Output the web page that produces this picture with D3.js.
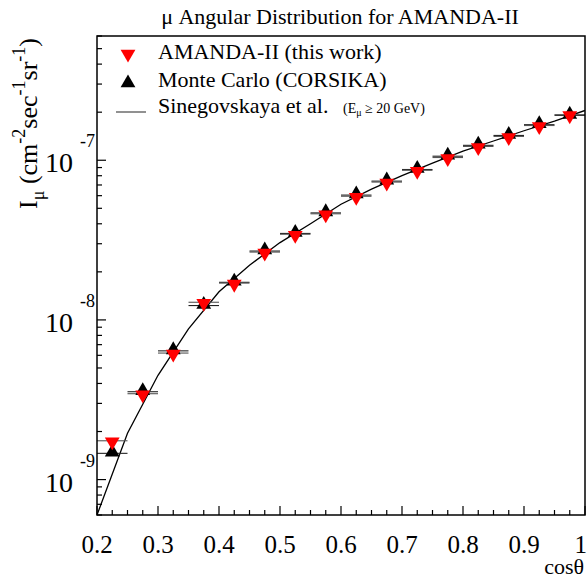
<!DOCTYPE html>
<html>
<head>
<meta charset="utf-8">
<script src="https://cdn.jsdelivr.net/npm/d3@7"></script>
<style>
  html, body { margin: 0; padding: 0; background: #fff; }
  svg { display: block; }
  svg text { font-family: "Liberation Serif", "Times New Roman", Times, "DejaVu Serif", serif; fill: #000; }
</style>
</head>
<body>
<div id="chart"></div>
<script>
// ---- data ----
const cosTheta = [0.225, 0.275, 0.325, 0.375, 0.425, 0.475, 0.525, 0.575, 0.625, 0.675, 0.725, 0.775, 0.825, 0.875, 0.925, 0.975];
const amandaData = [1.75e-9, 3.45e-9, 6.2e-9, 1.29e-8, 1.70e-8, 2.66e-8, 3.44e-8, 4.62e-8, 5.95e-8, 7.3e-8, 8.65e-8, 1.04e-7, 1.22e-7, 1.41e-7, 1.65e-7, 1.93e-7];
const monteCarlo = [1.46e-9, 3.55e-9, 6.4e-9, 1.23e-8, 1.72e-8, 2.70e-8, 3.48e-8, 4.68e-8, 6.05e-8, 7.4e-8, 8.75e-8, 1.06e-7, 1.24e-7, 1.43e-7, 1.67e-7, 1.91e-7];
const binHalfWidth = 0.025;
const curveCos = [0.2, 0.25, 0.3, 0.35, 0.4, 0.45, 0.5, 0.55, 0.6, 0.65, 0.7, 0.75, 0.8, 0.85, 0.9, 0.95, 1.0];
const curveVal = [6.0e-10, 1.95e-9, 4.5e-9, 8.8e-9, 1.5e-8, 2.2e-8, 3.05e-8, 4.0e-8, 5.3e-8, 6.6e-8, 8.0e-8, 9.6e-8, 1.14e-7, 1.32e-7, 1.53e-7, 1.76e-7, 2.05e-7];
const xTicks = [0.2, 0.3, 0.4, 0.5, 0.6, 0.7, 0.8, 0.9, 1];
const xTickLabels = ["0.2", "0.3", "0.4", "0.5", "0.6", "0.7", "0.8", "0.9", "1"];
const yDecades = [1e-9, 1e-8, 1e-7];
const yDecadeExp = ["-9", "-8", "-7"];
const legendLabels = ["AMANDA-II (this work)", "Monte Carlo (CORSIKA)", "Sinegovskaya et al."];

// ---- layout ----
const W = 587, H = 580;
const L = 97, R = 585, T = 36, B = 515;
const FONT = "'Liberation Serif', 'Times New Roman', Times, 'DejaVu Serif', serif";

const svg = d3.select("#chart").append("svg").attr("width", W).attr("height", H)
  .attr("font-family", FONT);

const x = d3.scaleLinear().domain([0.2, 1.0]).range([L, R]);
const y = d3.scaleLog().domain([6e-10, 6e-7]).range([B, T]);

svg.append("clipPath").attr("id", "clip").append("rect")
  .attr("x", L).attr("y", T).attr("width", R - L).attr("height", B - T);

// curve
const line = d3.line().x(d => x(d[0])).y(d => y(d[1]));
svg.append("path")
  .attr("clip-path", "url(#clip)")
  .attr("d", line(curveCos.map((c, i) => [c, curveVal[i]])))
  .attr("fill", "none").attr("stroke", "#000").attr("stroke-width", 1.3);

const gPts = svg.append("g").attr("clip-path", "url(#clip)");

function errBars(vals, color) {
  gPts.selectAll(null).data(cosTheta).enter().append("line")
    .attr("x1", d => x(d - binHalfWidth)).attr("x2", d => x(d + binHalfWidth))
    .attr("y1", (d, i) => y(vals[i])).attr("y2", (d, i) => y(vals[i]))
    .attr("stroke", color).attr("stroke-width", 1.1);
}
errBars(monteCarlo, "#222");
errBars(amandaData, "#555");

const triUp = d3.symbol().type(d3.symbolTriangle).size(95);
gPts.selectAll(null).data(cosTheta).enter().append("path")
  .attr("d", triUp)
  .attr("transform", (d, i) => `translate(${x(d)},${y(monteCarlo[i]) - 1})`)
  .attr("fill", "#000");
gPts.selectAll(null).data(cosTheta).enter().append("path")
  .attr("d", triUp)
  .attr("transform", (d, i) => `translate(${x(d)},${y(amandaData[i]) + 1}) rotate(180)`)
  .attr("fill", "#ff0000");

// frame
svg.append("rect").attr("x", L).attr("y", T).attr("width", R - L).attr("height", B - T)
  .attr("fill", "none").attr("stroke", "#000").attr("stroke-width", 1.5);

// x ticks (inward)
const xMinor = d3.range(0, 33).map(i => 0.2 + i * 0.025).filter(v => v <= 1.0001);
svg.append("g").selectAll("line").data(xMinor).enter().append("line")
  .attr("x1", d => x(d)).attr("x2", d => x(d))
  .attr("y1", B).attr("y2", d => xTicks.some(t => Math.abs(t - d) < 1e-6) ? B - 9 : B - 5)
  .attr("stroke", "#000").attr("stroke-width", 1.2);

svg.append("g").selectAll("text").data(xTicks).enter().append("text")
  .attr("x", (d, i) => i === xTicks.length - 1 ? 587 : x(d)).attr("y", 553)
  .attr("text-anchor", (d, i) => i === xTicks.length - 1 ? "end" : "middle")
  .attr("font-size", 25)
  .text((d, i) => xTickLabels[i]);

svg.append("text").attr("x", 584).attr("y", 574).attr("text-anchor", "end")
  .attr("font-size", 22).text("cosθ");

// y ticks (inward)
const yMinor = [];
[1e-10, 1e-9, 1e-8, 1e-7].forEach(dec => {
  for (let m = 1; m <= 9; m++) {
    const v = dec * m;
    if (v >= 6e-10 * 0.999 && v <= 6e-7 * 1.001) yMinor.push({ v, major: m === 1 });
  }
});
svg.append("g").selectAll("line").data(yMinor).enter().append("line")
  .attr("x1", L).attr("x2", d => d.major ? L + 9 : L + 5)
  .attr("y1", d => y(d.v)).attr("y2", d => y(d.v))
  .attr("stroke", "#000").attr("stroke-width", 1.2);

const yl = svg.append("g");
yDecades.forEach((v, i) => {
  yl.append("text").attr("x", 73).attr("y", y(v) + 12)
    .attr("text-anchor", "end").attr("font-size", 28).text("10");
  yl.append("text").attr("x", 80).attr("y", y(v) - 13)
    .attr("text-anchor", "start").attr("font-size", 18).text(yDecadeExp[i]);
});

// y title
const yt = svg.append("text")
  .attr("transform", "translate(37,38) rotate(-90)")
  .attr("text-anchor", "end").attr("font-size", 26);
yt.append("tspan").text("I");
yt.append("tspan").attr("font-size", 18).attr("dy", 7).text("μ");
yt.append("tspan").attr("dy", -7).text(" (cm");
yt.append("tspan").attr("font-size", 18).attr("dy", -12).text("-2");
yt.append("tspan").attr("dy", 12).text("sec");
yt.append("tspan").attr("font-size", 18).attr("dy", -12).text("-1");
yt.append("tspan").attr("dy", 12).text("sr");
yt.append("tspan").attr("font-size", 18).attr("dy", -12).text("-1");
yt.append("tspan").attr("dy", 12).text(")");

// title
svg.append("text").attr("x", 340).attr("y", 24).attr("text-anchor", "middle")
  .attr("font-size", 22).text("μ Angular Distribution for AMANDA-II");

// legend
const lg = svg.append("g");
const rowY = [52, 80, 106];
lg.append("path").attr("d", triUp).attr("transform", `translate(128,${rowY[0] + 2}) rotate(180)`).attr("fill", "#ff0000");
lg.append("path").attr("d", triUp).attr("transform", `translate(128,${rowY[1] + 3})`).attr("fill", "#000");
lg.append("line").attr("x1", 116).attr("x2", 146).attr("y1", rowY[2] + 6).attr("y2", rowY[2] + 6)
  .attr("stroke", "#555").attr("stroke-width", 1.3);
legendLabels.forEach((t, i) => {
  lg.append("text").attr("x", 158).attr("y", rowY[i] + 7).attr("font-size", 22).text(t);
});
const sub = lg.append("text").attr("x", 343).attr("y", rowY[2] + 7).attr("font-size", 14);
sub.append("tspan").text("(E");
sub.append("tspan").attr("font-size", 10).attr("dy", 3).text("μ");
sub.append("tspan").attr("dy", -3).text(" ≥ 20 GeV)");
</script>
</body>
</html>
